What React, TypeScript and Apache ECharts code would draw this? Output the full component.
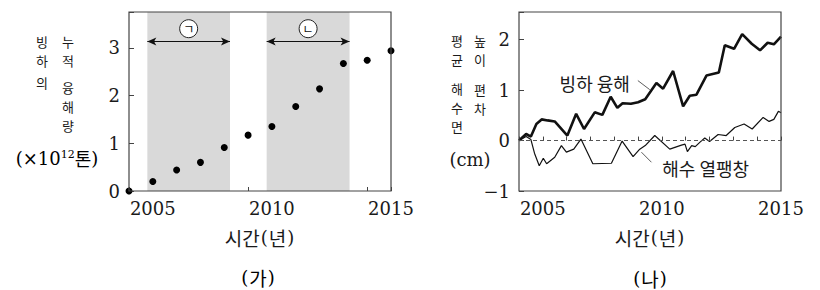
import React, { useEffect, useRef } from "react";
import * as echarts from "echarts";

// ---------- (가) cumulative glacier melt ----------
const YEARS = [2004, 2005, 2006, 2007, 2008, 2009, 2010, 2011, 2012, 2013, 2014, 2015];
const MELT_MASS = [0, 0.2, 0.44, 0.6, 0.91, 1.17, 1.35, 1.77, 2.14, 2.67, 2.74, 2.94];
const SHADE_START = [2004.77, 2009.78];
const SHADE_END = [2008.24, 2013.26];
const SHADE_MARK = ["ㄱ", "ㄴ"];
const ARROW_LEVEL = 3.13;
const MARK_LEVEL = 3.4;

// ---------- (나) sea-level anomaly ----------
const GLACIER_T = [2004.0, 2004.3, 2004.5, 2004.73, 2004.95, 2005.2, 2005.5, 2006.03, 2006.4, 2006.73, 2007.18, 2007.5, 2007.85, 2008.13, 2008.35, 2008.7, 2009.0, 2009.3, 2009.77, 2010.05, 2010.47, 2010.89, 2011.17, 2011.45, 2011.87, 2012.39, 2012.64, 2013.03, 2013.37, 2013.77, 2014.12, 2014.44, 2014.7, 2015.0];
const GLACIER_V = [0.0, 0.13, 0.08, 0.33, 0.42, 0.4, 0.38, 0.1, 0.53, 0.23, 0.56, 0.51, 0.87, 0.65, 0.74, 0.73, 0.76, 0.82, 1.14, 1.03, 1.38, 0.68, 0.89, 0.91, 1.29, 1.35, 1.89, 1.82, 2.11, 1.92, 1.79, 1.94, 1.91, 2.06];
const THERMAL_T = [2004.0, 2004.3, 2004.5, 2004.65, 2004.85, 2005.02, 2005.16, 2005.5, 2005.78, 2005.99, 2006.3, 2006.6, 2007.1, 2007.88, 2008.33, 2008.79, 2009.07, 2009.3, 2009.7, 2010.33, 2010.82, 2010.97, 2011.07, 2011.25, 2011.4, 2011.6, 2011.8, 2012.0, 2012.36, 2012.7, 2013.06, 2013.45, 2013.79, 2014.25, 2014.5, 2014.7, 2014.89, 2015.0];
const THERMAL_V = [0.0, 0.08, 0.02, -0.25, -0.5, -0.35, -0.46, -0.33, -0.1, -0.23, -0.17, 0.03, -0.46, -0.45, -0.01, -0.32, -0.17, -0.1, 0.1, -0.17, -0.09, -0.07, -0.22, -0.1, -0.12, -0.03, 0.05, -0.02, 0.12, 0.1, 0.26, 0.33, 0.23, 0.46, 0.38, 0.42, 0.58, 0.55];
const GLACIER_LABEL = "빙하 융해";
const GLACIER_LABEL_AT = [2007.18, 1.15];
const GLACIER_LEADER = [[2008.99, 1.19], [2009.49, 1.01]];
const THERMAL_LABEL = "해수 열팽창";
const THERMAL_LABEL_AT = [2011.84, -0.54];
const THERMAL_LEADER = [[2009.14, -0.23], [2009.56, -0.43]];

const SERIF = "DejaVu Serif";
const KR = "Noto Sans CJK KR";
const INK = "#1a1a1a";

const richMix = {
  k: { fontFamily: KR, fontSize: 19, color: INK },
  p: { fontFamily: SERIF, fontSize: 18, color: INK, padding: [0, 1, 0, 1] },
  s: { fontFamily: SERIF, fontSize: 11, color: INK, verticalAlign: "top", padding: [0, 0, 8, 0] },
};
const richLabel = {
  k: { fontFamily: KR, fontSize: 18, color: INK },
  p: { fontFamily: SERIF, fontSize: 18, color: INK },
  s: { fontFamily: SERIF, fontSize: 11, color: INK, verticalAlign: "top", padding: [0, 0, 8, 0] },
};

// vertical title block: characters stacked one per line
function vText(chars: string, x: number, y: number) {
  return {
    type: "text",
    x,
    y,
    style: {
      text: chars.split("").join("\n"),
      fontFamily: KR,
      fontSize: 13,
      lineHeight: 19,
      fill: INK,
      align: "center",
      verticalAlign: "middle",
    },
  };
}

export default function App() {
  const ref = useRef<HTMLDivElement>(null);
  useEffect(() => {
    if (!ref.current) return;
    const chart = echarts.init(ref.current, null, { renderer: "svg" });

    const xCommon = (gridIndex: number) => ({
      type: "value",
      gridIndex,
      min: 2004,
      max: 2015,
      interval: 1,
      axisLine: { show: false },
      axisTick: { show: true, inside: true, length: 4, lineStyle: { color: "#444", width: 1 } },
      splitLine: { show: false },
      axisLabel: {
        fontFamily: SERIF,
        fontSize: 18,
        color: INK,
        margin: 8,
        formatter: (v: number) => (v % 5 === 0 ? String(v) : ""),
      },
      name: "{k|시간}{p|(}{k|년}{p|)}",
      nameLocation: "middle",
      nameGap: 37,
      nameTextStyle: { rich: richMix },
    });

    const yFmt = (v: number) => (Number.isInteger(v) ? (v < 0 ? "−" + Math.abs(v) : String(v)) : "");

    const option: any = {
      animation: false,
      backgroundColor: "#fff",
      grid: [
        { left: 129, top: 12, width: 262, height: 179, show: true, borderColor: "#444", borderWidth: 1.2, backgroundColor: "transparent", z: 10 },
        { left: 519, top: 12, width: 262, height: 179, show: true, borderColor: "#444", borderWidth: 1.2, backgroundColor: "transparent", z: 10 },
      ],
      xAxis: [xCommon(0), xCommon(1)],
      yAxis: [
        {
          type: "value", gridIndex: 0, min: 0, max: 3.75, interval: 1,
          axisLine: { show: false }, splitLine: { show: false },
          axisTick: { show: true, inside: true, length: 5, lineStyle: { color: "#444" } },
          axisLabel: { fontFamily: SERIF, fontSize: 18, color: INK, margin: 9, formatter: yFmt },
        },
        {
          type: "value", gridIndex: 1, min: -1, max: 2.55, interval: 1,
          axisLine: { show: false }, splitLine: { show: false },
          axisTick: { show: true, inside: true, length: 5, lineStyle: { color: "#444" } },
          axisLabel: { fontFamily: SERIF, fontSize: 18, color: INK, margin: 9, formatter: yFmt },
        },
      ],
      series: [
        {
          type: "scatter",
          xAxisIndex: 0,
          yAxisIndex: 0,
          data: YEARS.map((y, i) => [y, MELT_MASS[i]]),
          symbolSize: 7,
          clip: false,
          itemStyle: { color: "#000", opacity: 1 },
          z: 5,
          markArea: {
            silent: true,
            itemStyle: { color: "#d9d9d9" },
            data: SHADE_START.map((s, i) => [{ xAxis: s }, { xAxis: SHADE_END[i] }]),
          },
          markLine: {
            silent: true,
            symbol: ["arrow", "arrow"],
            symbolSize: [6, 9],
            label: { show: false },
            lineStyle: { color: "#111", width: 1, type: "solid" },
            data: SHADE_START.map((s, i) => [{ coord: [s, ARROW_LEVEL] }, { coord: [SHADE_END[i], ARROW_LEVEL] }]),
          },
          markPoint: {
            silent: true,
            symbol: "circle",
            symbolSize: 18,
            itemStyle: { color: "#fff", borderColor: "#222", borderWidth: 1, opacity: 1 },
            label: { show: true, position: "inside", color: "#111", fontFamily: KR, fontSize: 12 },
            data: SHADE_START.map((s, i) => ({
              coord: [(s + SHADE_END[i]) / 2, MARK_LEVEL],
              value: SHADE_MARK[i],
              label: { formatter: SHADE_MARK[i] },
            })),
          },
        },
        {
          type: "line",
          xAxisIndex: 1,
          yAxisIndex: 1,
          data: THERMAL_T.map((t, i) => [t, THERMAL_V[i]]),
          showSymbol: false,
          symbol: "none",
          lineStyle: { color: "#111", width: 1.2 },
          z: 3,
          markLine: {
            silent: true,
            symbol: "none",
            label: { show: false },
            data: [
              { yAxis: 0, lineStyle: { color: "#555", width: 1, type: [4, 3] } },
              [
                { coord: THERMAL_LEADER[0], lineStyle: { color: "#333", width: 0.8, type: "solid" } },
                { coord: THERMAL_LEADER[1] },
              ],
              [
                { coord: GLACIER_LEADER[0], lineStyle: { color: "#333", width: 0.8, type: "solid" } },
                { coord: GLACIER_LEADER[1] },
              ],
            ],
          },
          markPoint: {
            silent: true,
            symbol: "circle",
            symbolSize: 0,
            label: { show: true, position: "inside", color: INK, fontFamily: KR, fontSize: 18 },
            data: [
              { coord: GLACIER_LABEL_AT, label: { formatter: GLACIER_LABEL } },
              { coord: THERMAL_LABEL_AT, label: { formatter: THERMAL_LABEL } },
            ],
          },
        },
        {
          type: "line",
          xAxisIndex: 1,
          yAxisIndex: 1,
          data: GLACIER_T.map((t, i) => [t, GLACIER_V[i]]),
          showSymbol: false,
          symbol: "none",
          lineStyle: { color: "#111", width: 2.6 },
          z: 4,
        },
      ],
      graphic: [
        vText("빙하", 42, 50.5),
        vText("의", 42, 82),
        vText("누적", 68, 50.5),
        vText("융해량", 68, 106),
        {
          type: "text", x: 57, y: 158,
          style: { text: "{p|(×10}{s|12}{k|톤}{p|)}", rich: richLabel, align: "center", verticalAlign: "middle" },
        },
        vText("평균", 457, 49.5),
        vText("해수면", 457, 107),
        vText("높이", 480, 49.5),
        vText("편차", 480, 98.5),
        {
          type: "text", x: 470, y: 159,
          style: { text: "(cm)", fontFamily: SERIF, fontSize: 18, fill: INK, align: "center", verticalAlign: "middle" },
        },
        {
          type: "text", x: 258, y: 277,
          style: { text: "{p|(}{k|가}{p|)}", rich: richMix, align: "center", verticalAlign: "middle" },
        },
        {
          type: "text", x: 650, y: 278,
          style: { text: "{p|(}{k|나}{p|)}", rich: richMix, align: "center", verticalAlign: "middle" },
        },
      ],
    };
    chart.setOption(option);
    return () => chart.dispose();
  }, []);
  return <div ref={ref} style={{ position: "absolute", left: 0, top: 0, width: 820, height: 290 }} />;
}
